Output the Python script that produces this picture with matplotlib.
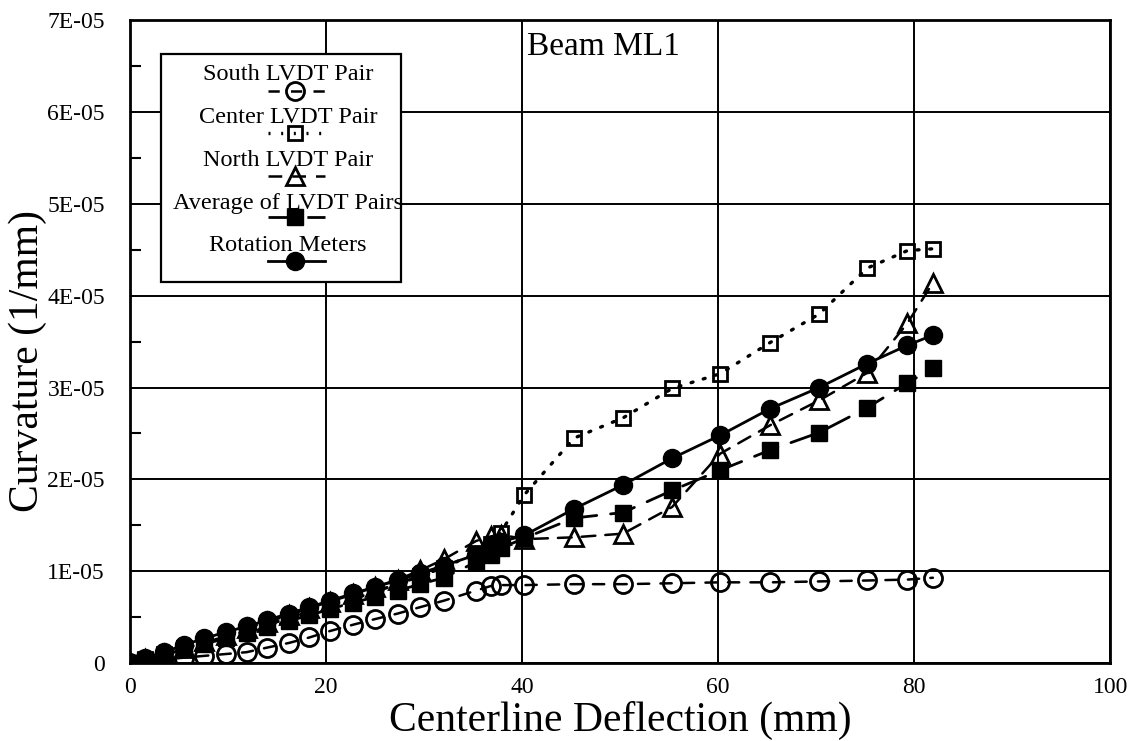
import matplotlib
matplotlib.use("Agg")
import matplotlib.pyplot as plt
from matplotlib.lines import Line2D
from matplotlib.patches import Rectangle
import numpy as np

plt.rcParams['font.family'] = ['Liberation Serif', 'DejaVu Serif']

# Centerline deflection (mm)
deflection = [0, 1.5, 3.5, 5.5, 7.6, 9.8, 11.9, 14.0, 16.2, 18.3, 20.4, 22.8, 25.0,
              27.3, 29.6, 32.0, 35.3, 36.8, 37.8, 40.2, 45.3, 50.3, 55.3, 60.2,
              65.3, 70.3, 75.2, 79.3, 81.9]

# Curvature (1E-05 /mm)
south = [0, 0.02, 0.04, 0.06, 0.08, 0.10, 0.12, 0.17, 0.22, 0.28, 0.35, 0.42, 0.48,
         0.54, 0.61, 0.68, 0.79, 0.84, 0.85, 0.85, 0.86, 0.86, 0.87, 0.88,
         0.88, 0.89, 0.90, 0.91, 0.93]
center = [0, 0.05, 0.10, 0.16, 0.22, 0.29, 0.35, 0.42, 0.49, 0.56, 0.63, 0.70, 0.78,
          0.86, 0.95, 1.04, 1.20, 1.30, 1.42, 1.83, 2.45, 2.67, 2.99, 3.15,
          3.49, 3.80, 4.30, 4.49, 4.51]
north = [0, 0.05, 0.10, 0.17, 0.24, 0.31, 0.38, 0.45, 0.52, 0.60, 0.67, 0.75, 0.83,
         0.91, 1.01, 1.13, 1.33, 1.38, 1.40, 1.35, 1.37, 1.41, 1.70, 2.28,
         2.59, 2.86, 3.16, 3.70, 4.14]
average = [0, 0.04, 0.09, 0.15, 0.21, 0.27, 0.33, 0.39, 0.46, 0.52, 0.59, 0.66, 0.72,
           0.79, 0.86, 0.93, 1.10, 1.18, 1.25, 1.36, 1.58, 1.64, 1.88, 2.10,
           2.32, 2.51, 2.78, 3.05, 3.21]
rotation = [0, 0.06, 0.12, 0.20, 0.27, 0.34, 0.40, 0.47, 0.54, 0.61, 0.68, 0.76, 0.83,
            0.90, 0.98, 1.06, 1.18, 1.26, 1.32, 1.39, 1.68, 1.94, 2.23, 2.48,
            2.77, 3.00, 3.26, 3.46, 3.57]

series_labels = ["South LVDT Pair", "Center LVDT Pair", "North LVDT Pair",
                 "Average of LVDT Pairs", "Rotation Meters"]
x_ticks = [0, 20, 40, 60, 80, 100]
y_ticks = [0, 1e-5, 2e-5, 3e-5, 4e-5, 5e-5, 6e-5, 7e-5]
y_tick_labels = ["0", "1E-05", "2E-05", "3E-05", "4E-05", "5E-05", "6E-05", "7E-05"]

scale = 1e-5
styles = [
    dict(marker='o', ms=13, mfc='none', mec='black', mew=2.0, lw=1.8, ls=(0, (4.5, 4.5))),
    dict(marker='s', ms=9.5, mfc='none', mec='black', mew=2.0, lw=2.4, ls=(0, (0.6, 3.2))),
    dict(marker='^', ms=13, mfc='none', mec='black', mew=2.0, lw=1.8, ls=(0, (5.5, 4))),
    dict(marker='s', ms=12, mfc='black', mec='black', mew=1.0, lw=2.0, ls=(0, (9, 5))),
    dict(marker='o', ms=13, mfc='black', mec='black', mew=1.0, lw=2.0, ls='-'),
]
data = [south, center, north, average, rotation]

fig = plt.figure(figsize=(11.4, 7.41), dpi=100)
ax = fig.add_axes([0.114, 0.105, 0.860, 0.868])

for vals, st in zip(data, styles):
    ax.plot(deflection, np.array(vals) * scale, color='black',
            dash_capstyle='round', zorder=3, **st)

ax.set_xlim(0, 100)
ax.set_ylim(0, 7e-5)
ax.set_xticks(x_ticks)
ax.set_xticklabels([str(t) for t in x_ticks])
ax.set_yticks(y_ticks)
ax.set_yticklabels(y_tick_labels)
ax.set_yticks(np.arange(0.5e-5, 7e-5, 1e-5), minor=True)
ax.tick_params(axis='x', which='major', length=0, pad=10, labelsize=17)
ax.tick_params(axis='y', which='major', length=0, pad=18, labelsize=17)
ax.tick_params(axis='y', which='minor', direction='in', length=8, width=1.5)
ax.grid(True, which='major', color='black', lw=1.4)
ax.set_axisbelow(True)
for sp in ax.spines.values():
    sp.set_linewidth(2.0)

ax.set_xlabel("Centerline Deflection (mm)", fontsize=30)
ax.xaxis.label.set_verticalalignment('baseline')
ax.xaxis.set_label_coords(0.5, -0.106)
ax.set_ylabel("Curvature (1/mm)", fontsize=30)
ax.yaxis.label.set_verticalalignment('center')
ax.yaxis.set_label_coords(-0.104, 0.47)

ax.text(0.405, 0.958, "Beam ML1", transform=ax.transAxes, fontsize=24,
        ha='left', va='center')

# Key box: label above each line sample
ax.add_patch(Rectangle((0.032, 0.593), 0.244, 0.354, transform=ax.transAxes,
                       facecolor='white', edgecolor='black', lw=1.6, zorder=5))
text_y = [0.915, 0.848, 0.781, 0.714, 0.649]
sample_y = [0.890, 0.824, 0.758, 0.693, 0.626]
for lab, st, ty, sy in zip(series_labels, styles, text_y, sample_y):
    ax.text(0.161, ty, lab, transform=ax.transAxes, fontsize=17.5,
            ha='center', va='center', zorder=6)
    ln = Line2D([0.141, 0.199], [sy, sy], transform=ax.transAxes, color='black',
                zorder=6, **{k: v for k, v in st.items() if k != 'marker'})
    ax.add_line(ln)
    mk = Line2D([0.168], [sy], transform=ax.transAxes, color='black', ls='none',
                marker=st['marker'], ms=st['ms'], mfc=st['mfc'], mec=st['mec'],
                mew=st['mew'], zorder=7)
    mk.set_clip_on(False)
    ax.add_line(mk)

fig.savefig("out.png", dpi=100)
